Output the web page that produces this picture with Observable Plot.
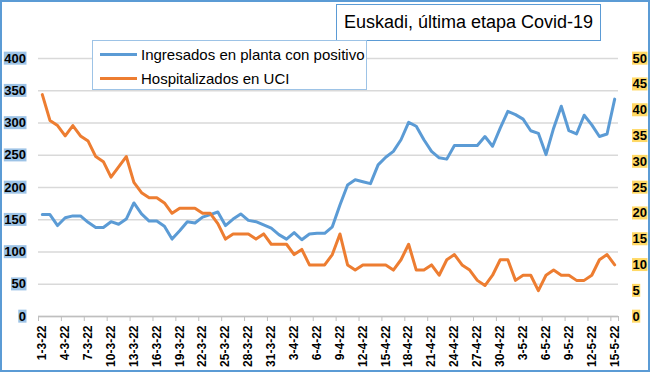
<!DOCTYPE html>
<html><head><meta charset="utf-8">
<script src="https://cdn.jsdelivr.net/npm/d3@7"></script>
<script src="https://cdn.jsdelivr.net/npm/@observablehq/plot@0.6"></script>
<style>
body{margin:0;background:#fff;}
#wrap{position:relative;width:650px;height:372px;font-family:"Liberation Sans",Arial,sans-serif;overflow:hidden;background:#fff;}
#frame{position:absolute;left:0;top:0;width:650px;height:372px;box-sizing:border-box;border:2px solid #5b9bd5;pointer-events:none;}
#title{position:absolute;left:336px;top:4px;width:265px;height:37px;box-sizing:border-box;border:1.5px solid #5b9bd5;background:#fff;font-size:18px;display:flex;align-items:center;justify-content:center;color:#000;}
#legend{position:absolute;left:92px;top:40px;width:275px;height:50px;box-sizing:border-box;border:1px solid #9dc3e6;background:#fff;font-size:15px;color:#000;}
.item{position:absolute;left:7px;height:18px;display:flex;align-items:center;white-space:nowrap;}
.sw{width:37px;height:3px;margin-right:4px;}
</style></head>
<body>
<div id="wrap"></div>
<script>
const dates = [
"1-3-22","2-3-22","3-3-22","4-3-22","5-3-22","6-3-22","7-3-22","8-3-22","9-3-22","10-3-22",
"11-3-22","12-3-22","13-3-22","14-3-22","15-3-22","16-3-22","17-3-22","18-3-22","19-3-22","20-3-22",
"21-3-22","22-3-22","23-3-22","24-3-22","25-3-22","26-3-22","27-3-22","28-3-22","29-3-22","30-3-22","31-3-22",
"1-4-22","2-4-22","3-4-22","4-4-22","5-4-22","6-4-22","7-4-22","8-4-22","9-4-22","10-4-22",
"11-4-22","12-4-22","13-4-22","14-4-22","15-4-22","16-4-22","17-4-22","18-4-22","19-4-22","20-4-22",
"21-4-22","22-4-22","23-4-22","24-4-22","25-4-22","26-4-22","27-4-22","28-4-22","29-4-22","30-4-22",
"1-5-22","2-5-22","3-5-22","4-5-22","5-5-22","6-5-22","7-5-22","8-5-22","9-5-22","10-5-22",
"11-5-22","12-5-22","13-5-22","14-5-22","15-5-22"
];
const ingresados = [
158,158,141,153,156,156,146,138,138,147,143,151,176,159,148,148,140,120,133,
147,145,154,158,162,141,151,159,149,147,142,137,127,120,130,119,128,129,129,
139,173,204,212,209,206,235,247,256,274,301,295,274,256,246,244,265,265,265,
265,279,264,292,318,313,306,288,284,251,292,326,288,283,312,297,279,283,337
];
const uci = [
43,38,37,35,37,35,34,31,30,27,29,31,26,24,23,23,22,20,21,
21,21,20,20,18,15,16,16,16,15,16,14,14,14,12,13,10,10,10,
12,16,10,9,10,10,10,10,9,11,14,9,9,10,8,11,12,10,9,
7,6,8,11,11,7,8,8,5,8,9,8,8,7,7,8,11,12,10
];
const leftTicks = [0,50,100,150,200,250,300,350,400];
const rightTicks = [0,5,10,15,20,25,30,35,40,45,50];
const seriesNames = ["Ingresados en planta con positivo","Hospitalizados en UCI"];
const seriesColors = ["#5b9bd5","#ed7d31"];
const titleText = "Euskadi, última etapa Covid-19";

const leftMax = leftTicks[leftTicks.length-1];
const rightMax = rightTicks[rightTicks.length-1];
const ratio = leftMax / rightMax;
const labelIdx = dates.map((d,i)=>i).filter(i => i % 3 === 0);
const boundaries = labelIdx.map(i => i - 0.5).concat([dates.length - 0.5]);

const font = "Liberation Sans, Arial, sans-serif";
const chart = Plot.plot({
  width: 650, height: 372,
  marginLeft: 38, marginRight: 32, marginTop: 58, marginBottom: 56,
  x: {type: "linear", domain: [-0.5, dates.length - 0.5], axis: null},
  y: {domain: [0, leftMax], axis: null},
  style: {fontFamily: font, background: "transparent", overflow: "visible"},
  marks: [
    Plot.gridY(leftTicks, {stroke: "#d9d9d9", strokeOpacity: 1, strokeWidth: 1.5}),
    Plot.ruleY([0], {stroke: "#bfbfbf", strokeWidth: 1.5}),
    Plot.axisX(boundaries, {tickSize: 5, tickFormat: () => "", stroke: "#bfbfbf", strokeOpacity: 1, label: null}),
    Plot.axisX(labelIdx, {tickSize: 0, tickPadding: 9, tickRotate: -90, tickFormat: i => dates[i], fontSize: 12, fontWeight: "bold", fill: "#000", label: null}),
    Plot.axisY(leftTicks, {anchor: "left", tickSize: 0, tickPadding: 12.5, fontSize: 13, fontWeight: "bold", fill: "#000", label: null}),
    Plot.axisY(rightTicks.map(d => d * ratio), {anchor: "right", tickSize: 0, tickPadding: 14, tickFormat: d => d / ratio, fontSize: 13, fontWeight: "bold", fill: "#000", label: null}),
    Plot.line(ingresados, {x: (d, i) => i, y: d => d, stroke: seriesColors[0], strokeWidth: 3, strokeLinejoin: "round"}),
    Plot.line(uci, {x: (d, i) => i, y: d => d * ratio, stroke: seriesColors[1], strokeWidth: 3, strokeLinejoin: "round"})
  ]
});
const wrap = document.getElementById("wrap");
wrap.appendChild(chart);

// label highlight backgrounds
const svgRect = chart.getBoundingClientRect();
const ns = "http://www.w3.org/2000/svg";
const bgGroup = document.createElementNS(ns, "g");
chart.querySelectorAll('g[aria-label="y-axis tick label"] text').forEach(t => {
  const r = t.getBoundingClientRect();
  const rect = document.createElementNS(ns, "rect");
  const x = r.left - svgRect.left, y = r.top - svgRect.top;
  rect.setAttribute("x", x - 0.5);
  rect.setAttribute("y", y + 1);
  rect.setAttribute("width", r.width + 1);
  rect.setAttribute("height", r.height - 2);
  rect.setAttribute("fill", x < 325 ? "#9dc3e6" : "#ffd966");
  bgGroup.appendChild(rect);
});
const firstG = chart.querySelector("g");
chart.insertBefore(bgGroup, firstG);

// title
const title = document.createElement("div");
title.id = "title";
title.textContent = titleText;
wrap.appendChild(title);

// legend
const legend = document.createElement("div");
legend.id = "legend";
seriesNames.forEach((name, k) => {
  const it = document.createElement("div");
  it.className = "item";
  it.style.top = (4 + k * 24) + "px";
  const sw = document.createElement("span");
  sw.className = "sw";
  sw.style.background = seriesColors[k];
  const tx = document.createElement("span");
  tx.textContent = name;
  it.appendChild(sw); it.appendChild(tx);
  legend.appendChild(it);
});
wrap.appendChild(legend);

const frame = document.createElement("div");
frame.id = "frame";
wrap.appendChild(frame);
</script>
</body></html>
